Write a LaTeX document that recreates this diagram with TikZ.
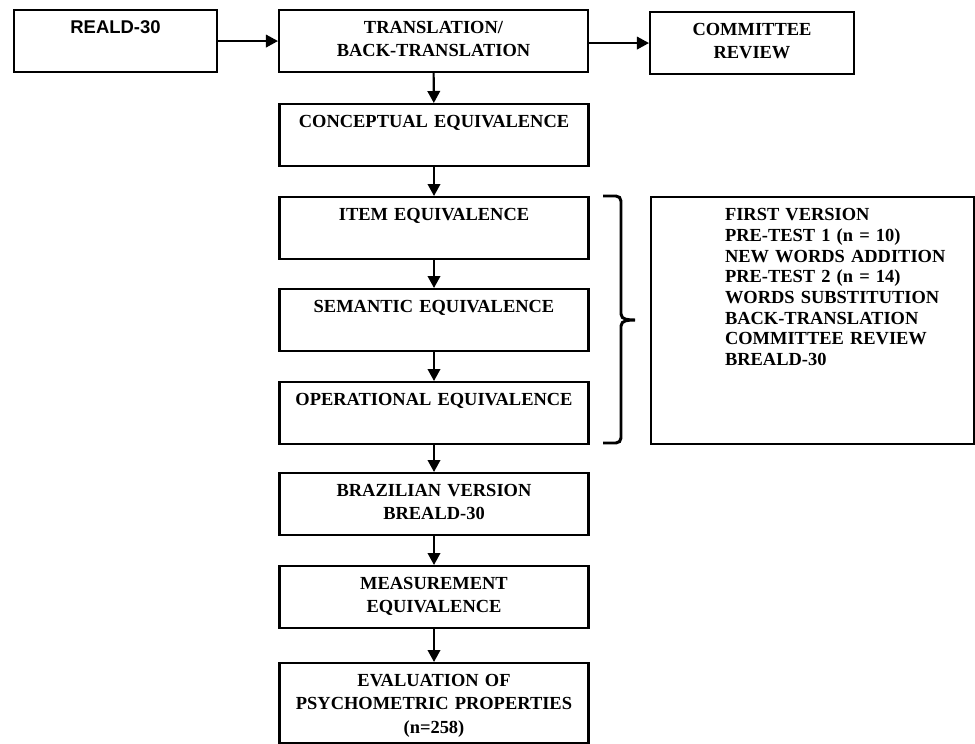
\documentclass[tikz,border=0pt]{standalone}
\usepackage{fontspec}
\setmainfont{Liberation Serif}
\newfontfamily\headsans{Liberation Sans}
\usetikzlibrary{arrows.meta}
\tikzset{box/.style={draw, line width=1.2pt, align=center, anchor=north,
    inner xsep=0pt, inner ysep=0pt, text height=0.47cm, text depth=0.77cm,
    font=\bfseries\fontsize{10.5}{13.3}\selectfont}}
\tikzset{flow/.style={line width=1.2pt, -{Triangle[length=0.24cm, width=0.25cm]}}}
\tikzset{bracket/.style={line width=1.7pt}}

\begin{document}
\begin{tikzpicture}[x=0.02cm, y=-0.02cm]
  \useasboundingbox (0,0) rectangle (975,744);
  % top row
  \node[box, text width=4.06cm] (reald) at (115.5,9) {{\headsans REALD-30}};
  \node[box, text width=6.18cm] (trans) at (433.5,9) {TRANSLATION/\\BACK-TRANSLATION};
  \node[box, text width=4.08cm] (committee) at (752,11) {COMMITTEE\\REVIEW};
  % main column
  \node[box, text width=6.18cm] (conceptual) at (434,103) {CONCEPTUAL EQUIVALENCE};
  \node[box, text width=6.18cm] (item) at (434,196) {ITEM EQUIVALENCE};
  \node[box, text width=6.18cm] (semantic) at (434,288) {SEMANTIC EQUIVALENCE};
  \node[box, text width=6.18cm] (operational) at (434,381) {OPERATIONAL EQUIVALENCE};
  \node[box, text width=6.18cm] (brazilian) at (434,472) {BRAZILIAN VERSION\\BREALD-30};
  \node[box, text width=6.18cm] (measurement) at (434,565) {MEASUREMENT\\EQUIVALENCE};
  \node[box, text width=6.18cm, text depth=1.13cm] (evaluation) at (434,662)
    {EVALUATION OF\\PSYCHOMETRIC PROPERTIES\\(n=258)};
  % steps of the cultural adaptation
  \node[box, text width=6.46cm, text depth=4.47cm, align=left,
    font=\bfseries\fontsize{10.5}{11.8}\selectfont] (steps) at (812.5,196)
    {\leftskip=1.48cm FIRST VERSION\\PRE-TEST 1 (n = 10)\\NEW WORDS ADDITION\\
     PRE-TEST 2 (n = 14)\\WORDS SUBSTITUTION\\BACK-TRANSLATION\\
     COMMITTEE REVIEW\\BREALD-30\par};

  \draw[flow] (reald) -- (trans);
  \draw[flow] (trans.east |- committee.west) -- (committee.west);
  \draw[flow] (trans) -- (conceptual);
  \draw[flow] (conceptual) -- (item);
  \draw[flow] (item) -- (semantic);
  \draw[flow] (semantic) -- (operational);
  \draw[flow] (operational) -- (brazilian);
  \draw[flow] (brazilian) -- (measurement);
  \draw[flow] (measurement) -- (evaluation);

  \draw[bracket] (603,196) -- (616,196) to[out=0,in=90] (621,201) -- (621,314)
    to[out=-90,in=180] (635,320) to[out=180,in=90] (621,326) -- (621,438)
    to[out=-90,in=0] (616,443) -- (603,443);
\end{tikzpicture}
\end{document}
